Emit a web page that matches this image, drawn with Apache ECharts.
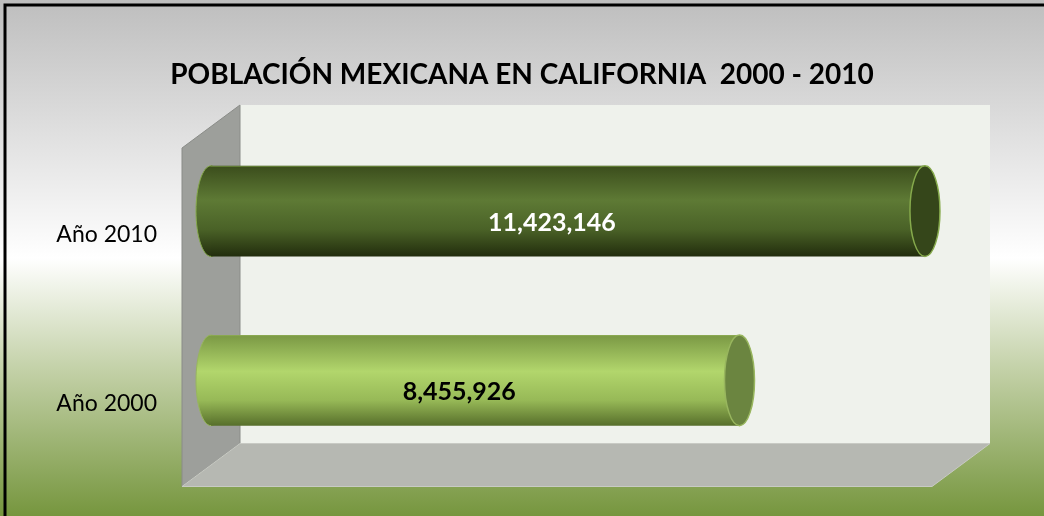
<!DOCTYPE html>
<html><head><meta charset="utf-8">
<script src="https://cdn.jsdelivr.net/npm/echarts@6/dist/echarts.min.js"></script>
<style>html,body{margin:0;padding:0;}#c{width:1044px;height:516px;}</style>
</head><body><div id="c"></div>
<script>
var categories = ['Año 2000', 'Año 2010'];
var populationValues = [8455926, 11423146];
var titleText = 'POBLACIÓN MEXICANA EN CALIFORNIA  2000 - 2010';

var chart = echarts.init(document.getElementById('c'), null, {renderer: 'canvas'});
var DX = 29, DY = 21.5;
var bodyGrad = [
  [{offset:0,color:'#7a9844'},{offset:0.4,color:'#b2d66c'},{offset:0.72,color:'#97b957'},{offset:1,color:'#576f2b'}],
  [{offset:0,color:'#3b4d1c'},{offset:0.38,color:'#5e7a35'},{offset:0.7,color:'#4a6227'},{offset:1,color:'#222d0d'}]
];
var capFill = ['#6b8540', '#35461a'];
var capRim = ['#98b65e', '#86aa4c'];
var labelColor = ['#000000', '#ffffff'];
function fmt(v){ return v.toString().replace(/\B(?=(\d{3})+(?!\d))/g, ','); }
function lg(stops){ return new echarts.graphic.LinearGradient(0,0,0,1,stops); }

chart.setOption({
  animation: false,
  backgroundColor: new echarts.graphic.LinearGradient(0,0,0,1,[
    {offset:0,color:'#bebebe'},{offset:0.5,color:'#ffffff'},{offset:0.72,color:'#c2d0a6'},{offset:1,color:'#76963e'}
  ]),
  title: {text: titleText, left: 'center', top: 56,
    textStyle: {fontFamily: 'Lato', fontWeight: 'bold', fontSize: 28, color: '#000'}},
  grid: {left: 211, top: 126.5, width: 750, height: 338.5, containLabel: false},
  xAxis: {type: 'value', min: 0, max: 12000000, show: false},
  yAxis: {type: 'category', data: categories, axisLine: {show: false}, axisTick: {show: false},
    splitLine: {show: false},
    axisLabel: {margin: 54, fontFamily: 'Lato', fontSize: 23, color: '#000', verticalAlign: 'top', padding: [12,0,0,0]}},
  series: [{
    type: 'custom', z: 1, silent: true,
    data: [0],
    renderItem: function(params, api){
      var cs = params.coordSys;
      var x0 = cs.x, y0 = cs.y, w = cs.width, h = cs.height;
      var bx = x0 + DX, by = y0 - DY, fx = x0 - DX, fy = y0 + DY;
      return {type: 'group', children: [
        {type: 'rect', shape: {x: bx, y: by, width: w, height: h}, style: {fill: '#eff2ec'}},
        {type: 'polygon', shape: {points: [[fx, fy], [bx, by], [bx, by + h], [fx, fy + h]]},
          style: {fill: '#9d9f9b', stroke: '#8a8c88', lineWidth: 1}},
        {type: 'polygon', shape: {points: [[fx, fy + h], [bx, by + h], [bx + w, by + h], [fx + w, fy + h]]},
          style: {fill: '#b6b8b2', stroke: '#c8cac4', lineWidth: 1}}
      ]};
    }
  }, {
    type: 'custom', z: 2, silent: true,
    data: populationValues.map(function(v, i){ return [v, i]; }),
    encode: {x: 0, y: 1},
    renderItem: function(params, api){
      var i = params.dataIndex;
      var v = api.value(0);
      var start = api.coord([0, api.value(1)]);
      var end = api.coord([v, api.value(1)]);
      var band = api.size([0, 1])[1];
      var bh = band * 0.535;
      var rx = 15, ry = bh / 2;
      var yc = start[1];
      var top = yc - ry;
      return {type: 'group', children: [
        {type: 'ellipse', shape: {cx: start[0], cy: yc, rx: rx, ry: ry},
          style: {fill: lg(bodyGrad[i]), stroke: capRim[i], lineWidth: 1}},
        {type: 'rect', shape: {x: start[0], y: top, width: end[0] - start[0], height: bh},
          style: {fill: lg(bodyGrad[i])}},
        {type: 'line', shape: {x1: start[0], y1: top + 0.5, x2: end[0], y2: top + 0.5},
          style: {stroke: capRim[i], lineWidth: 1, opacity: 0.6}},
        {type: 'ellipse', shape: {cx: end[0], cy: yc, rx: rx, ry: ry},
          style: {fill: capFill[i], stroke: capRim[i], lineWidth: 1.5}},
        {type: 'text', x: (start[0] + end[0]) / 2 - 16, y: yc + 12,
          style: {text: fmt(v), fill: labelColor[i], font: 'bold 25px Lato', align: 'center', verticalAlign: 'middle'}}
      ]};
    }
  }],
  graphic: [{type: 'rect', shape: {x: 0, y: 0, width: 1044, height: 516}, z: 100, silent: true,
    style: {fill: 'none', stroke: '#000', lineWidth: 3}, x: 5, y: 5}]
});
</script></body></html>
